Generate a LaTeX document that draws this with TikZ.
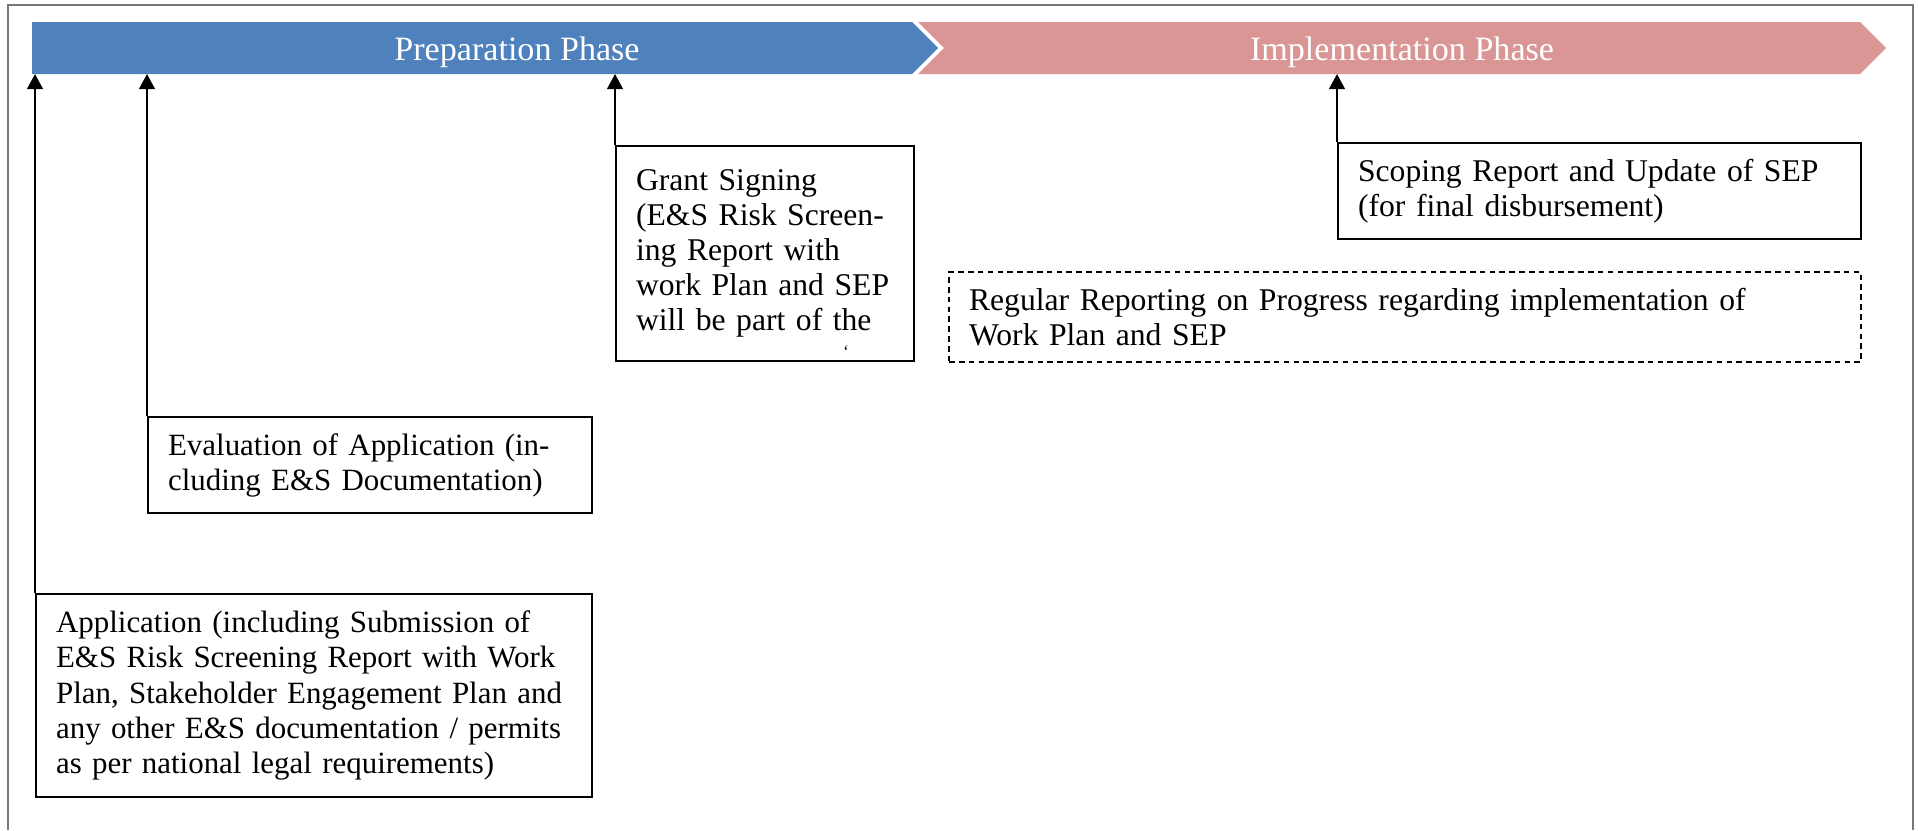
\documentclass[tikz,border=0pt]{standalone}
\usepackage{fontspec}
\setmainfont{Liberation Serif}
\usetikzlibrary{arrows.meta}
\usetikzlibrary{positioning}
\usetikzlibrary{calc}
\definecolor{prepBlue}{RGB}{79,129,189}
\definecolor{implPink}{RGB}{217,150,148}
\definecolor{frameGray}{RGB}{120,120,120}

\begin{document}
\begin{tikzpicture}[
  box/.style={draw=black,line width=0.6pt,anchor=north west,align=left,inner xsep=0.2cm,inner ysep=0pt,font=\fontsize{9pt}{10pt}\selectfont},
  phase/.style={white,anchor=base,font=\fontsize{9.7pt}{11pt}\selectfont},
  arr/.style={-{Triangle[length=4.3pt,width=4.5pt]},line width=0.6pt}]
  \useasboundingbox (0,0) rectangle (19.18,-8.30);
  \draw[frameGray,line width=0.6pt] (0.08,-8.30) -- (0.08,-0.05) -- (19.13,-0.05) -- (19.13,-8.30);
  \fill[prepBlue] (0.32,-0.22) -- (9.12,-0.22) -- (9.38,-0.48) -- (9.12,-0.74) -- (0.32,-0.74) -- cycle;
  \fill[implPink] (9.18,-0.22) -- (18.60,-0.22) -- (18.86,-0.48) -- (18.60,-0.74) -- (9.18,-0.74) -- (9.44,-0.48) -- cycle;
  \coordinate (barBase) at (0,-0.74);
  \node[phase] (prepText) at (5.17,-0.60) {Preparation Phase};
  \node[phase] (implText) at (14.02,-0.60) {Implementation Phase};
  \node[box,font=\fontsize{8.8pt}{10pt}\selectfont,text width=5.16cm,minimum height=2.03cm] (app) at (0.35,-5.93) {Application (including Submission of\\E\&S Risk Screening Report with Work\\\mbox{Plan, Stakeholder Engagement Plan and}\\\mbox{any other E\&S documentation / permits}\\as per national legal requirements)};
  \node[box,font=\fontsize{8.8pt}{10pt}\selectfont,text width=4.04cm,minimum height=0.96cm] (eval) at (1.47,-4.16) {Evaluation of Application (in-\\cluding E\&S Documentation)};
  \node[box,text width=2.58cm,minimum height=2.15cm] (grant) at (6.15,-1.45) {Grant Signing\\(E\&S Risk Screen-\\ing Report with\\work Plan and SEP\\will be part of the};
  \node[font=\fontsize{5pt}{5pt}\selectfont,inner sep=0pt] (tick) at (8.46,-3.52) {`};
  \node[box,text width=4.83cm,minimum height=0.96cm] (scope) at (13.37,-1.42) {Scoping Report and Update of SEP\\(for final disbursement)};
  \node[box,dash pattern=on 1.6pt off 1.2pt,text width=8.72cm,minimum height=0.90cm] (report) at (9.48,-2.71) {Regular Reporting on Progress regarding implementation of\\Work Plan and SEP};
  \draw[arr] (app.north west) -- (app.north west |- barBase);
  \draw[arr] (eval.north west) -- (eval.north west |- barBase);
  \draw[arr] (grant.north west) -- (grant.north west |- barBase);
  \draw[arr] (scope.north west) -- (scope.north west |- barBase);
\end{tikzpicture}
\end{document}
